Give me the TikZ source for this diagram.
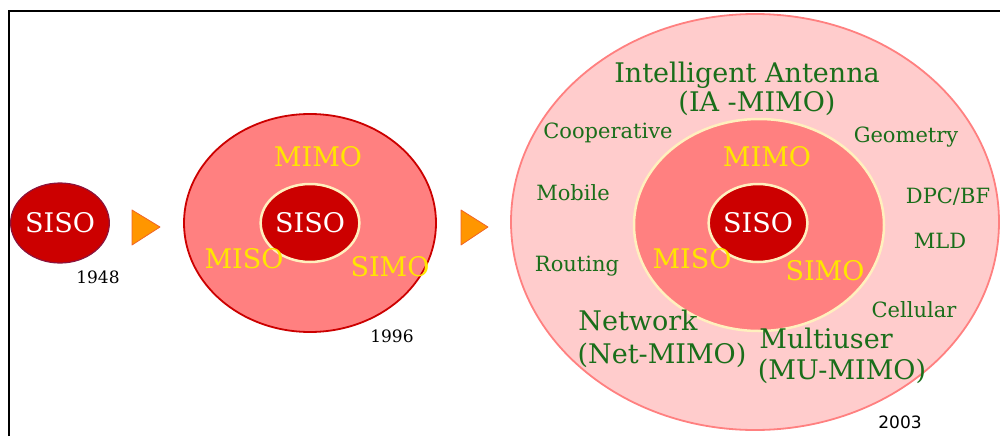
\documentclass[tikz,border=0pt]{standalone}
\usepackage{fontspec}
\setmainfont{DejaVu Serif}
\newfontfamily\yrsans{DejaVu Sans}
\usetikzlibrary{shapes.geometric}
\definecolor{siso_red}{RGB}{204, 0, 0}
\definecolor{siso_rim}{RGB}{140, 20, 60}
\definecolor{mimo_pink}{RGB}{255, 128, 128}
\definecolor{ia_pink}{RGB}{255, 204, 204}
\definecolor{cream}{RGB}{255, 240, 190}
\definecolor{mimo_yellow}{RGB}{255, 230, 0}
\definecolor{ia_green}{RGB}{26, 110, 26}
\definecolor{arr_orange}{RGB}{255, 150, 0}
\definecolor{arr_rim}{RGB}{240, 100, 40}
\tikzstyle{sn}=[ellipse,fill=siso_red,draw=siso_rim,line width=1.2pt,
  minimum width=96pt,minimum height=80pt,inner sep=0pt,text=white,
  font=\fontsize{27}{27}\selectfont]
\tikzstyle{si}=[sn,draw=cream,line width=2.5pt,minimum width=94pt,minimum height=78pt]
\tikzstyle{mn}=[ellipse,fill=mimo_pink,draw=siso_red,line width=1.8pt,
  minimum width=252pt,minimum height=218pt,inner sep=0pt]
\tikzstyle{mc}=[mn,draw=cream,line width=2.5pt,minimum width=250pt,minimum height=212pt]
\tikzstyle{on}=[ellipse,fill=ia_pink,draw=mimo_pink,line width=1.8pt,
  minimum width=488pt,minimum height=416pt,inner sep=0pt]
\tikzstyle{yt}=[text=mimo_yellow,font=\fontsize{27}{27}\selectfont,inner sep=0pt,anchor=base]
\tikzstyle{gt}=[text=ia_green,font=\fontsize{21}{21}\selectfont,inner sep=0pt,anchor=base]
\tikzstyle{gtl}=[gt,font=\fontsize{27}{27}\selectfont]
\tikzstyle{yr}=[font=\fontsize{17}{17}\selectfont,inner sep=0pt,anchor=base]
\tikzstyle{tri}=[fill=arr_orange,draw=arr_rim,line width=0.8pt,line join=round]

\begin{document}
\begin{tikzpicture}[x=1pt,y=-1pt]
            \useasboundingbox (0,0) rectangle (1000,436);
            \draw [line width=2pt] (9,436) -- (9,11) -- (1000,11);
            \node [style=on] (20) at (755, 222) {};
            \node [style=mn] (10) at (310, 223) {};
            \node [style=mc] (21) at (759, 225) {};
            \node [style=sn] (1) at (60, 223) {SISO};
            \node [style=si] (11) at (310, 223) {SISO};
            \node [style=si] (22) at (758, 223) {SISO};
            \draw [style=tri] (132, 210) -- (160, 227) -- (132, 245) -- cycle;
            \draw [style=tri] (461, 210) -- (488, 227) -- (461, 245) -- cycle;
            \node [style=yr] (2) at (98, 283) {1948};
            \node [style=yt] (12) at (318, 166) {MIMO};
            \node [style=yt] (13) at (244, 268) {MISO};
            \node [style=yt] (14) at (390, 276) {SIMO};
            \node [style=yr] (15) at (392, 342) {1996};
            \node [style=gtl] (23) at (747, 82) {Intelligent Antenna};
            \node [style=gtl] (24) at (757, 111) {(IA -MIMO)};
            \node [style=gt] (25) at (608, 138) {Cooperative};
            \node [style=gt] (26) at (906, 142) {Geometry};
            \node [style=gt] (27) at (573, 200) {Mobile};
            \node [style=gt] (28) at (948, 203) {DPC/BF};
            \node [style=gt] (29) at (940, 248) {MLD};
            \node [style=gt] (30) at (577, 271) {Routing};
            \node [style=gt] (31) at (914, 317) {Cellular};
            \node [style=yt] (32) at (767, 166) {MIMO};
            \node [style=yt] (33) at (692, 268) {MISO};
            \node [style=yt] (34) at (825, 280) {SIMO};
            \node [style=gtl] (35) at (638, 330) {Network};
            \node [style=gtl] (36) at (662, 363) {(Net-MIMO)};
            \node [style=gtl] (37) at (826, 348) {Multiuser};
            \node [style=gtl] (38) at (842, 379) {(MU-MIMO)};
            \node [style=yr,font=\yrsans\fontsize{17}{17}\selectfont] (39) at (900, 428) {2003};
    \end{tikzpicture}
\end{document}
